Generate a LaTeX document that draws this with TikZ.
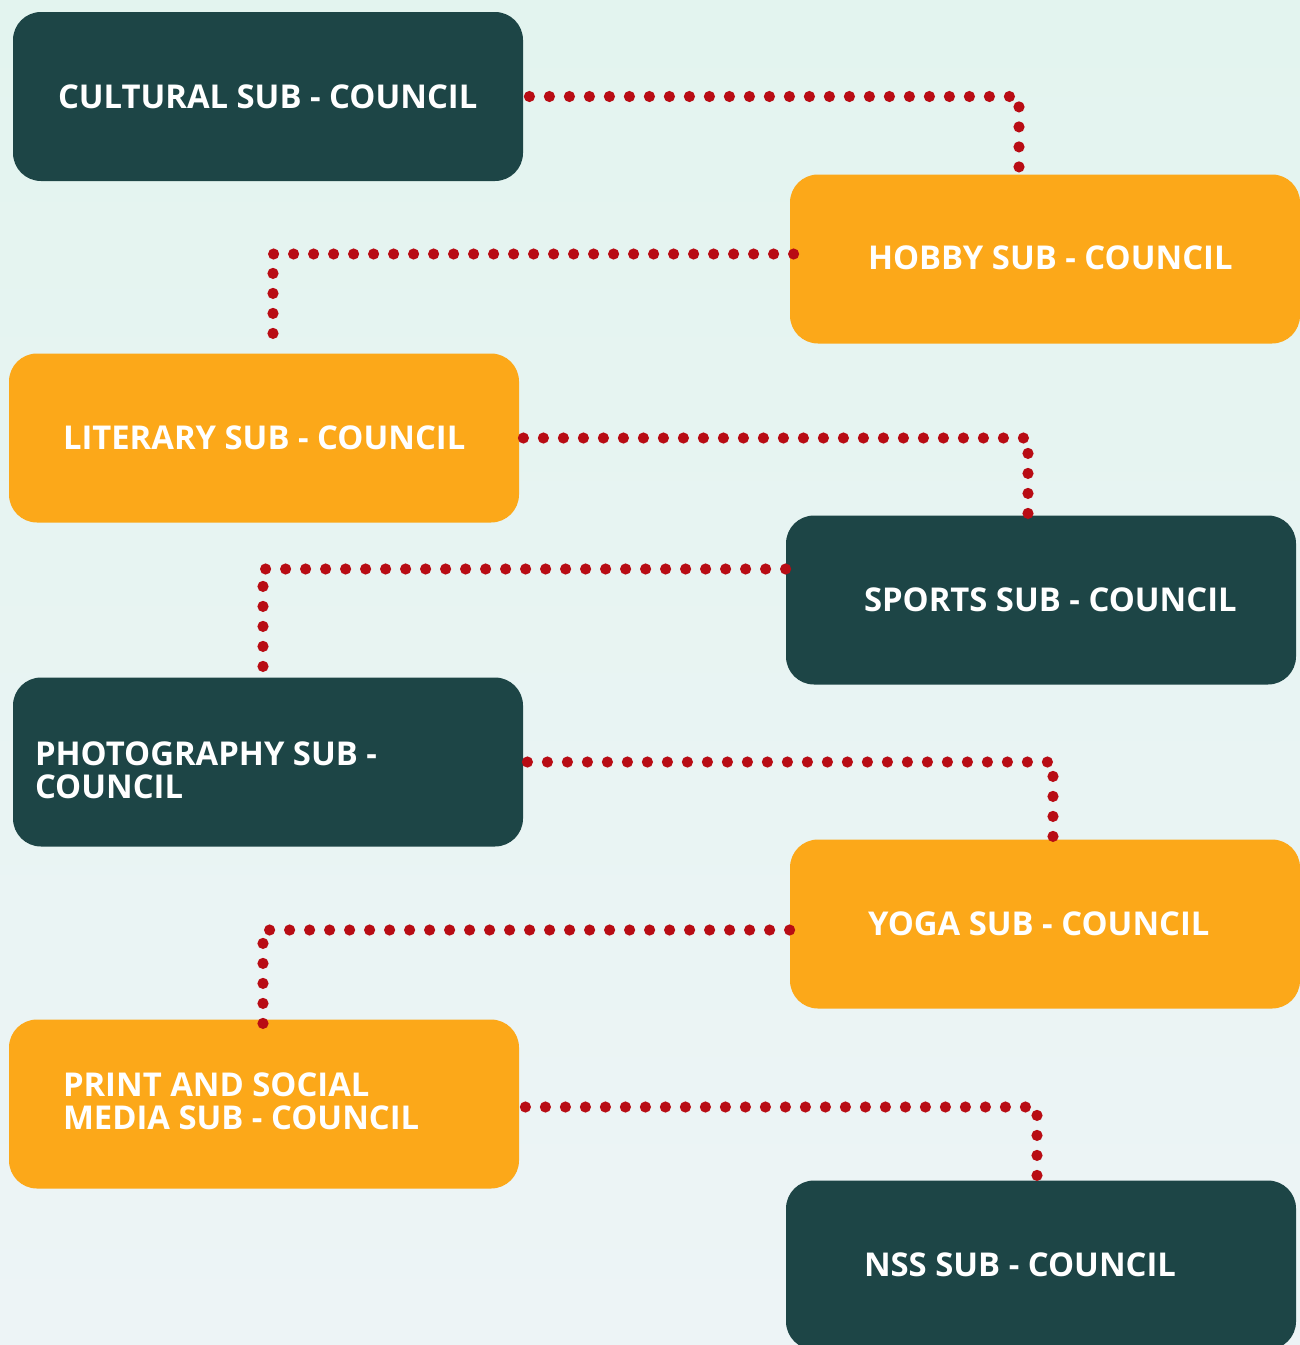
\documentclass[tikz,border=0pt]{standalone}
\usepackage{fontspec}
\setmainfont{Open Sans}
\usetikzlibrary{calc,decorations.markings}

\definecolor{tealbox}{HTML}{1D4546}
\definecolor{orangebox}{HTML}{FCA819}
\definecolor{dotred}{HTML}{B80C14}
\definecolor{bgtop}{HTML}{E3F4EF}
\definecolor{bgbottom}{HTML}{EDF4F6}

\tikzset{
	council/.style={rounded corners=14pt, minimum width=255pt, minimum height=84.5pt, inner sep=0pt},
	darkbox/.style={council, fill=tealbox},
	lightbox/.style={council, fill=orangebox},
	boxtext/.style={anchor=west, text=white, align=left, inner sep=0pt,
		font=\fontsize{16.4}{16.5}\selectfont\bfseries},
	dots/.style={postaction={decorate}, decoration={markings,
		mark=between positions 0 and 1 step 10pt with {\fill[dotred] (0,0) circle (2.8pt);}}}
}

\begin{document}
\begin{tikzpicture}[x=0.5pt,y=-0.5pt]
		\fill[top color=bgtop, bottom color=bgbottom] (0,0) rectangle (1300,1345);
		\useasboundingbox (0,0) rectangle (1300,1345);
		% left column
		\node[darkbox] (cult) at (268,96.5) {};
		\node[lightbox] (lit) at (264,438) {};
		\node[darkbox] (photo) at (268,762) {};
		\node[lightbox] (print) at (264,1104) {};
		% right column
		\node[lightbox] (hobby) at (1045,259) {};
		\node[darkbox] (sport) at (1041,600) {};
		\node[lightbox] (yoga) at (1045,924) {};
		\node[darkbox] (nss) at (1041,1265) {};
		% texts
		\node[boxtext] (cultT) at ([xshift=22.5pt]cult.west) {CULTURAL SUB - COUNCIL};
		\node[boxtext] (litT) at ([xshift=27pt]lit.west) {LITERARY SUB - COUNCIL};
		\node[boxtext] (photoT) at ([xshift=11pt,yshift=-4pt]photo.west) {PHOTOGRAPHY SUB -\\COUNCIL};
		\node[boxtext] (printT) at ([xshift=27pt,yshift=1.5pt]print.west) {PRINT AND SOCIAL\\MEDIA SUB - COUNCIL};
		\node[boxtext] (hobbyT) at ([xshift=39pt,yshift=0.5pt]hobby.west) {HOBBY SUB - COUNCIL};
		\node[boxtext] (sportT) at ([xshift=39pt]sport.west) {SPORTS SUB - COUNCIL};
		\node[boxtext] (yogaT) at ([xshift=39pt]yoga.west) {YOGA SUB - COUNCIL};
		\node[boxtext] (nssT) at ([xshift=39pt]nss.west) {NSS SUB - COUNCIL};
		% dotted links
		\path[dots] ([xshift=3pt]cult.east) -| ([xshift=-13pt]hobby.north);
		\path[dots] ([yshift=2.5pt,xshift=2pt]hobby.west) -| ([xshift=4.5pt]lit.north);
		\path[dots] ([xshift=2pt]lit.east) -| ([xshift=-6.5pt]sport.north);
		\path[dots] ([yshift=15.5pt]sport.west) -| ([xshift=-2.5pt,yshift=5pt]photo.north);
		\path[dots] ([xshift=2pt]photo.east) -| ([xshift=4pt]yoga.north);
		\path[dots] ([yshift=-3pt]yoga.west) -| ([xshift=-0.5pt,yshift=-4pt]print.north);
		\path[dots] ([yshift=-1.5pt,xshift=3pt]print.east) -| ([xshift=-2pt,yshift=2pt]nss.north);
\end{tikzpicture}
\end{document}
